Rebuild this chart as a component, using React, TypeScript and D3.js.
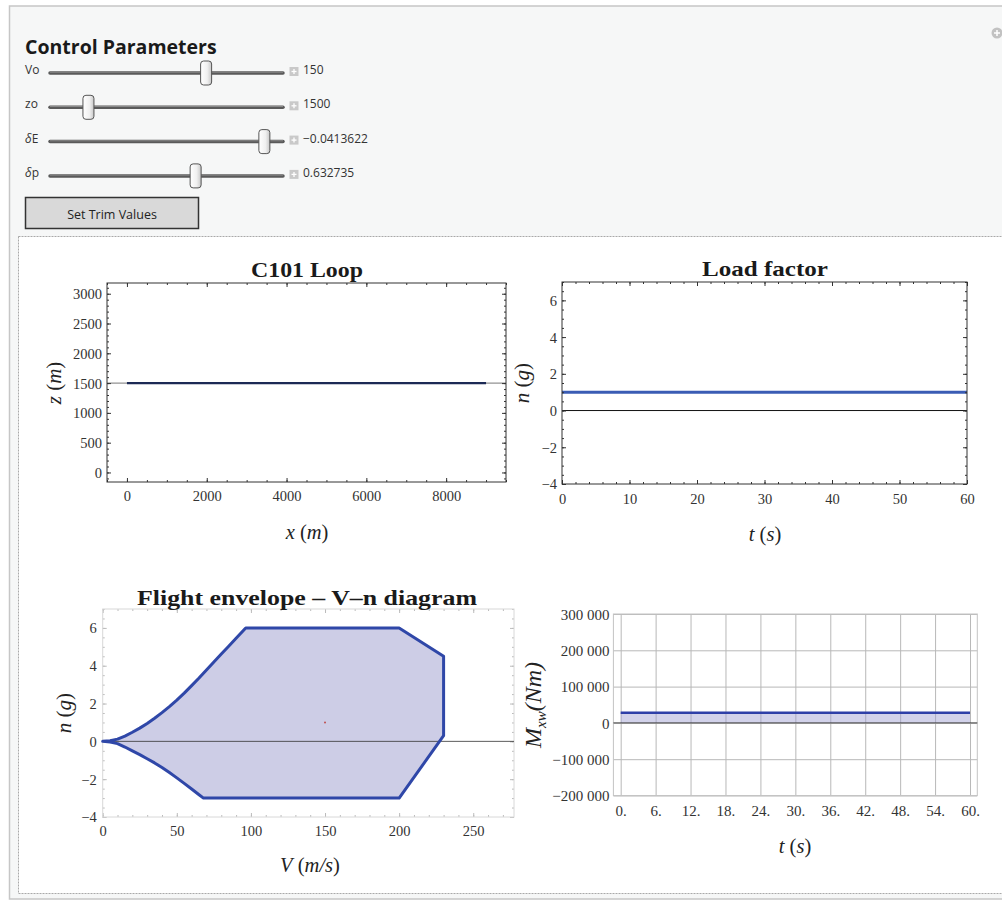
import { useEffect, useRef } from "react";
import * as d3 from "d3";

// control panel
const sliderLabels = ['Vo', 'zo', 'δE', 'δp'];
const sliderValues = ['150', '1500', '−0.0413622', '0.632735'];
const sliderFractions = [0.67, 0.165, 0.92, 0.625];

// C101 loop trajectory
const loopX = [0, 9000];
const loopZ = [1500, 1500];
const loopXTicks = [0, 2000, 4000, 6000, 8000];
const loopZTicks = [0, 500, 1000, 1500, 2000, 2500, 3000];

// load factor vs time
const loadT = [0, 60];
const loadN = [1, 1];
const loadTTicks = [0, 10, 20, 30, 40, 50, 60];
const loadNTicks = [-4, -2, 0, 2, 4, 6];

// V-n envelope
const envUpperV = [0, 5, 10, 15, 20, 25, 30, 35, 40, 45, 50, 55, 60, 65, 70, 75, 80, 85, 90, 96.5];
const envUpperN = [0, 0.03, 0.12, 0.28, 0.48, 0.7, 0.95, 1.22, 1.52, 1.84, 2.18, 2.55, 2.95, 3.35, 3.78, 4.2, 4.62, 5.03, 5.45, 6];
const envRightV = [200, 230, 230, 200];
const envRightN = [6, 4.5, 0.3, -3];
const envLowerV = [68, 65, 60, 55, 50, 45, 40, 35, 30, 25, 20, 15, 10, 5, 0];
const envLowerN = [-3, -2.82, -2.52, -2.22, -1.93, -1.65, -1.38, -1.14, -0.92, -0.7, -0.5, -0.3, -0.12, -0.03, 0];
const trimV = 150;
const trimN = 1;
const envVTicks = [0, 50, 100, 150, 200, 250];
const envNTicks = [-4, -2, 0, 2, 4, 6];

// wing root moment
const momentT = [0, 60];
const momentM = [28000, 28000];
const momentTTicks = [0, 6, 12, 18, 24, 30, 36, 42, 48, 54, 60];
const momentMTicks = [-200000, -100000, 0, 100000, 200000, 300000];

const SERIF = '"Liberation Serif", "Times New Roman", serif';
const SANS = '"Open Sans", "Noto Sans", sans-serif';

type G = d3.Selection<SVGGElement, unknown, null, undefined>;
type Lin = d3.ScaleLinear<number, number>;

type FrameOpts = {
    xMajor: number[]; xMinor: number[];
    yMajor: number[]; yMinor: number[];
    frameColor: string; tickColor: string;
    xPad: number; yPad: number;
}

const styleAxis = (a: G, size = 14.5) => {
    a.select('.domain').remove();
    a.attr('font-family', SERIF).attr('font-size', size);
    a.selectAll('text').attr('fill', '#333');
}

const minus = (d: any) => d3.format('')(d).replace('-', '−');

// Mathematica-like frame: ticks pointing inwards on all four sides
const drawFrame = (g: G, x: Lin, y: Lin, o: FrameOpts) => {
    const [x0, x1] = x.range();
    const [y0, y1] = y.range();
    const none = () => '';
    const sides: [any, number, boolean][] = [
        [d3.axisBottom(x).tickValues(o.xMinor).tickSize(-2).tickFormat(none), y0, false],
        [d3.axisTop(x).tickValues(o.xMinor).tickSize(-2).tickFormat(none), y1, false],
        [d3.axisLeft(y).tickValues(o.yMinor).tickSize(-2).tickFormat(none), x0, true],
        [d3.axisRight(y).tickValues(o.yMinor).tickSize(-2).tickFormat(none), x1, true],
        [d3.axisTop(x).tickValues(o.xMajor).tickSize(-4).tickFormat(none), y1, false],
        [d3.axisRight(y).tickValues(o.yMajor).tickSize(-4).tickFormat(none), x1, true],
    ];
    sides.forEach(([ax, pos, vertical]) => {
        const a = g.append('g')
            .attr('transform', vertical ? `translate(${pos},0)` : `translate(0,${pos})`)
            .call(ax);
        styleAxis(a);
        a.selectAll('line').attr('stroke', o.tickColor);
    });
    const bottom = g.append('g').attr('transform', `translate(0,${y0})`)
        .call(d3.axisBottom(x).tickValues(o.xMajor).tickSize(-4).tickPadding(o.xPad).tickFormat(minus));
    styleAxis(bottom);
    bottom.selectAll('line').attr('stroke', o.tickColor);
    const left = g.append('g').attr('transform', `translate(${x0},0)`)
        .call(d3.axisLeft(y).tickValues(o.yMajor).tickSize(-4).tickPadding(o.yPad).tickFormat(minus));
    styleAxis(left);
    left.selectAll('line').attr('stroke', o.tickColor);
    left.selectAll('text').attr('dy', '0.34em');

    g.append('rect')
        .attr('x', x0).attr('y', y1)
        .attr('width', x1 - x0).attr('height', y0 - y1)
        .attr('fill', 'none')
        .attr('stroke', o.frameColor)
        .attr('stroke-width', 1);
}

const addTitle = (g: G, cx: number, y: number, text: string, len: number) => {
    g.append('text')
        .attr('x', cx).attr('y', y)
        .attr('text-anchor', 'middle')
        .attr('font-family', SERIF)
        .attr('font-weight', 'bold')
        .attr('font-size', 21)
        .attr('fill', '#1a1a1a')
        .attr('textLength', len)
        .attr('lengthAdjust', 'spacingAndGlyphs')
        .text(text);
}

const addXLabel = (g: G, cx: number, y: number, parts: [string, boolean][]) => {
    const t = g.append('text')
        .attr('x', cx).attr('y', y)
        .attr('text-anchor', 'middle')
        .attr('font-family', SERIF)
        .attr('font-size', 20.5)
        .attr('fill', '#222');
    parts.forEach(([s, it]) => t.append('tspan').attr('font-style', it ? 'italic' : 'normal').text(s));
}

const addYLabel = (g: G, cx: number, cy: number, parts: [string, boolean][]) => {
    const t = g.append('text')
        .attr('transform', `translate(${cx},${cy}) rotate(-90)`)
        .attr('text-anchor', 'middle')
        .attr('dy', '0.3em')
        .attr('font-family', SERIF)
        .attr('font-size', 21)
        .attr('fill', '#222');
    parts.forEach(([s, it]) => t.append('tspan').attr('font-style', it ? 'italic' : 'normal').text(s));
}

function Charts() {
    const gRef = useRef<SVGGElement | null>(null);

    useEffect(() => {
        const g = d3.select(gRef.current) as unknown as G;
        g.selectAll('*').remove();

        // ---------- C101 Loop ----------
        const loopXs = d3.scaleLinear().domain([-500, 9500]).range([107, 506]);
        const loopZs = d3.scaleLinear().domain([-160, 3180]).range([482, 283]);
        const g1 = g.append('g');
        g1.append('line')
            .attr('x1', 107).attr('x2', 506)
            .attr('y1', loopZs(1500)).attr('y2', loopZs(1500))
            .attr('stroke', '#777').attr('stroke-width', 1);
        g1.append('path')
            .datum(loopX.map((v, i) => [v, loopZ[i]] as [number, number]))
            .attr('fill', 'none')
            .attr('stroke', '#1c2a55')
            .attr('stroke-width', 2.2)
            .attr('d', d3.line().x(d => loopXs(d[0])).y(d => loopZs(d[1])));
        drawFrame(g1, loopXs, loopZs, {
            xMajor: loopXTicks, xMinor: d3.range(-500, 9501, 500),
            yMajor: loopZTicks, yMinor: d3.range(-100, 3101, 100),
            frameColor: '#333', tickColor: '#333', xPad: 9, yPad: 5,
        });
        addTitle(g1, 307, 277, 'C101 Loop', 112);
        addXLabel(g1, 307, 539, [['x', true], [' (', false], ['m', true], [')', false]]);
        addYLabel(g1, 55, 383, [['z', true], [' (', false], ['m', true], [')', false]]);

        // ---------- Load factor ----------
        const loadTs = d3.scaleLinear().domain([0, 60]).range([562, 967]);
        const loadNs = d3.scaleLinear().domain([-4, 7]).range([484, 282]);
        const g2 = g.append('g');
        g2.append('line')
            .attr('x1', 562).attr('x2', 967)
            .attr('y1', loadNs(0)).attr('y2', loadNs(0))
            .attr('stroke', '#111').attr('stroke-width', 1);
        g2.append('path')
            .datum(loadT.map((v, i) => [v, loadN[i]] as [number, number]))
            .attr('fill', 'none')
            .attr('stroke', '#3a5cb4')
            .attr('stroke-width', 3)
            .attr('d', d3.line().x(d => loadTs(d[0])).y(d => loadNs(d[1])));
        drawFrame(g2, loadTs, loadNs, {
            xMajor: loadTTicks, xMinor: d3.range(0, 61, 2),
            yMajor: loadNTicks, yMinor: d3.range(-4, 7.01, 0.5),
            frameColor: '#333', tickColor: '#333', xPad: 10, yPad: 5,
        });
        addTitle(g2, 765, 276, 'Load factor', 126);
        addXLabel(g2, 765, 541, [['t', true], [' (', false], ['s', true], [')', false]]);
        addYLabel(g2, 523, 383, [['n', true], [' (', false], ['g', true], [')', false]]);

        // ---------- Flight envelope ----------
        const envVs = d3.scaleLinear().domain([0, 277.5]).range([102.7, 514]);
        const envNs = d3.scaleLinear().domain([-4, 7]).range([817, 609]);
        const g3 = g.append('g');
        const envPts: [number, number][] = [
            ...envUpperV.map((v, i) => [v, envUpperN[i]] as [number, number]),
            ...envRightV.map((v, i) => [v, envRightN[i]] as [number, number]),
            ...envLowerV.map((v, i) => [v, envLowerN[i]] as [number, number]),
        ];
        const envLine = d3.line().x(d => envVs(d[0])).y(d => envNs(d[1]));
        g3.append('path')
            .datum(envPts)
            .attr('fill', '#cdcde6')
            .attr('stroke', 'none')
            .attr('d', envLine(envPts) + 'Z');
        drawFrame(g3, envVs, envNs, {
            xMajor: envVTicks, xMinor: d3.range(0, 271, 10),
            yMajor: envNTicks, yMinor: d3.range(-4, 7.01, 0.5),
            frameColor: '#d8d8d8', tickColor: '#bbb', xPad: 9, yPad: 6,
        });
        g3.append('line')
            .attr('x1', envVs(0)).attr('x2', 514)
            .attr('y1', envNs(0)).attr('y2', envNs(0))
            .attr('stroke', '#333').attr('stroke-opacity', 0.8).attr('stroke-width', 1);
        g3.append('path')
            .datum(envPts)
            .attr('fill', 'none')
            .attr('stroke', '#2f47a8')
            .attr('stroke-width', 3)
            .attr('stroke-linejoin', 'round')
            .attr('d', envLine(envPts) + 'Z');
        g3.append('circle')
            .attr('cx', envVs(trimV)).attr('cy', envNs(trimN))
            .attr('r', 1).attr('fill', '#c05050');
        addTitle(g3, 307, 605, 'Flight envelope – V–n diagram', 340);
        addXLabel(g3, 310, 872, [['V', true], [' (', false], ['m/s', true], [')', false]]);
        addYLabel(g3, 65, 713, [['n', true], [' (', false], ['g', true], [')', false]]);

        // ---------- Wing root moment ----------
        const momTs = d3.scaleLinear().domain([-1.25, 61.25]).range([613.4, 977.3]);
        const momMs = d3.scaleLinear().domain([-200000, 300000]).range([795.5, 614]);
        const g4 = g.append('g');
        const gx = g4.append('g').attr('transform', 'translate(0,795.5)')
            .call(d3.axisBottom(momTs).tickValues(momentTTicks).tickSize(-181.5).tickPadding(10)
                .tickFormat((d: any) => `${d}.`));
        styleAxis(gx, 15);
        gx.selectAll('line').attr('stroke', '#b8b8b8');
        const gy = g4.append('g').attr('transform', 'translate(613.4,0)')
            .call(d3.axisLeft(momMs).tickValues(momentMTicks).tickSize(-363.9).tickPadding(4)
                .tickFormat((d: any) => (d < 0 ? '−' : '') + d3.format(',')(Math.abs(d)).replace(/,/g, ' ')));
        styleAxis(gy, 15);
        gy.selectAll('line').attr('stroke', '#b8b8b8');
        gy.selectAll('text').attr('dy', '0.34em');
        g4.append('rect')
            .attr('x', 613.4).attr('y', 614)
            .attr('width', 977.3 - 613.4).attr('height', 795.5 - 614)
            .attr('fill', 'none').attr('stroke', '#c4c4c4');
        const momArea = d3.area<number>()
            .x((_, i) => momTs(momentT[i]))
            .y0(momMs(0))
            .y1(d => momMs(d));
        g4.append('path')
            .datum(momentM)
            .attr('fill', '#9c9cd0')
            .attr('fill-opacity', 0.45)
            .attr('d', momArea);
        g4.append('line')
            .attr('x1', 613.4).attr('x2', 977.3)
            .attr('y1', momMs(0)).attr('y2', momMs(0))
            .attr('stroke', '#444').attr('stroke-width', 1);
        g4.append('path')
            .datum(momentT.map((v, i) => [v, momentM[i]] as [number, number]))
            .attr('fill', 'none')
            .attr('stroke', '#2e3fa8')
            .attr('stroke-width', 2.5)
            .attr('d', d3.line().x(d => momTs(d[0])).y(d => momMs(d[1])));
        addXLabel(g4, 795, 853, [['t', true], [' (', false], ['s', true], [')', false]]);
        const my = g4.append('text')
            .attr('transform', 'translate(534,705) rotate(-90)')
            .attr('text-anchor', 'middle')
            .attr('dy', '0.3em')
            .attr('font-family', SERIF)
            .attr('font-size', 24)
            .attr('font-style', 'italic')
            .attr('fill', '#222');
        my.append('tspan').text('M');
        my.append('tspan').attr('font-size', 15).attr('dy', 5).text('xw');
        my.append('tspan').attr('dy', -5).text('(Nm)');
    }, []);

    return <g ref={gRef}></g>;
}

export default function App() {
    const trackX0 = 50;
    const trackX1 = 283;
    const rowY = (i: number) => 73 + i * 34.3;

    return (
        <svg width={1002} height={901} style={{ position: 'absolute', left: 0, top: 0 }}>
            <defs>
                <linearGradient id="knob" x1="0" y1="0" x2="1" y2="0">
                    <stop offset="0" stopColor="#ffffff" />
                    <stop offset="0.6" stopColor="#f0f0f0" />
                    <stop offset="1" stopColor="#c8c8c8" />
                </linearGradient>
            </defs>
            <rect x={0} y={0} width={1002} height={901} fill="#ffffff" />
            <rect x={9.5} y={6} width={1000} height={893} fill="#f6f7f7" stroke="#c6c6c6" strokeWidth={1.5} />
            <text x={25} y={54} fontFamily={SANS} fontWeight="bold" fontSize={19.5} fill="#1a1a1a">Control Parameters</text>
            {sliderLabels.map((lab, i) => {
                const y = rowY(i);
                const kx = trackX0 + sliderFractions[i] * (trackX1 - trackX0);
                return (
                    <g key={lab}>
                        <text x={25} y={y + 1} fontFamily={SANS} fontSize={12} fill="#333">
                            {lab.startsWith('δ')
                                ? <><tspan fontStyle="italic">δ</tspan>{lab.slice(1)}</>
                                : lab}
                        </text>
                        <line x1={trackX0} x2={trackX1} y1={y} y2={y} stroke="#5a5a5a" strokeWidth={3.5} strokeLinecap="round" />
                        <line x1={trackX0} x2={trackX1} y1={y - 0.8} y2={y - 0.8} stroke="#8a8a8a" strokeWidth={1} />
                        <rect x={kx - 5.5} y={y - 12} width={11} height={24} rx={3} fill="url(#knob)" stroke="#555" strokeWidth={1} />
                        <rect x={289.5} y={y - 6} width={9} height={9} fill="#c9c9c9" />
                        <line x1={291.5} x2={296.5} y1={y - 1.5} y2={y - 1.5} stroke="#fff" strokeWidth={1.3} />
                        <line x1={294} x2={294} y1={y - 4} y2={y + 1} stroke="#fff" strokeWidth={1.3} />
                        <text x={303} y={y + 1} fontFamily={SANS} fontSize={12} fill="#333">{sliderValues[i]}</text>
                    </g>
                );
            })}
            <rect x={25.5} y={197.5} width={173} height={31} fill="#d9d9d9" stroke="#333" strokeWidth={1.5} />
            <text x={112} y={219} textAnchor="middle" fontFamily={SANS} fontSize={12.5} fill="#222">Set Trim Values</text>
            <circle cx={997} cy={33} r={5.5} fill="#c2c2c2" />
            <line x1={994} x2={1000} y1={33} y2={33} stroke="#fff" strokeWidth={1.5} />
            <line x1={997} x2={997} y1={30} y2={36} stroke="#fff" strokeWidth={1.5} />
            <rect x={18.5} y={236.5} width={1000} height={657} fill="#ffffff" stroke="#a9a9a9" strokeDasharray="2,1" />
            <Charts />
        </svg>
    );
}
